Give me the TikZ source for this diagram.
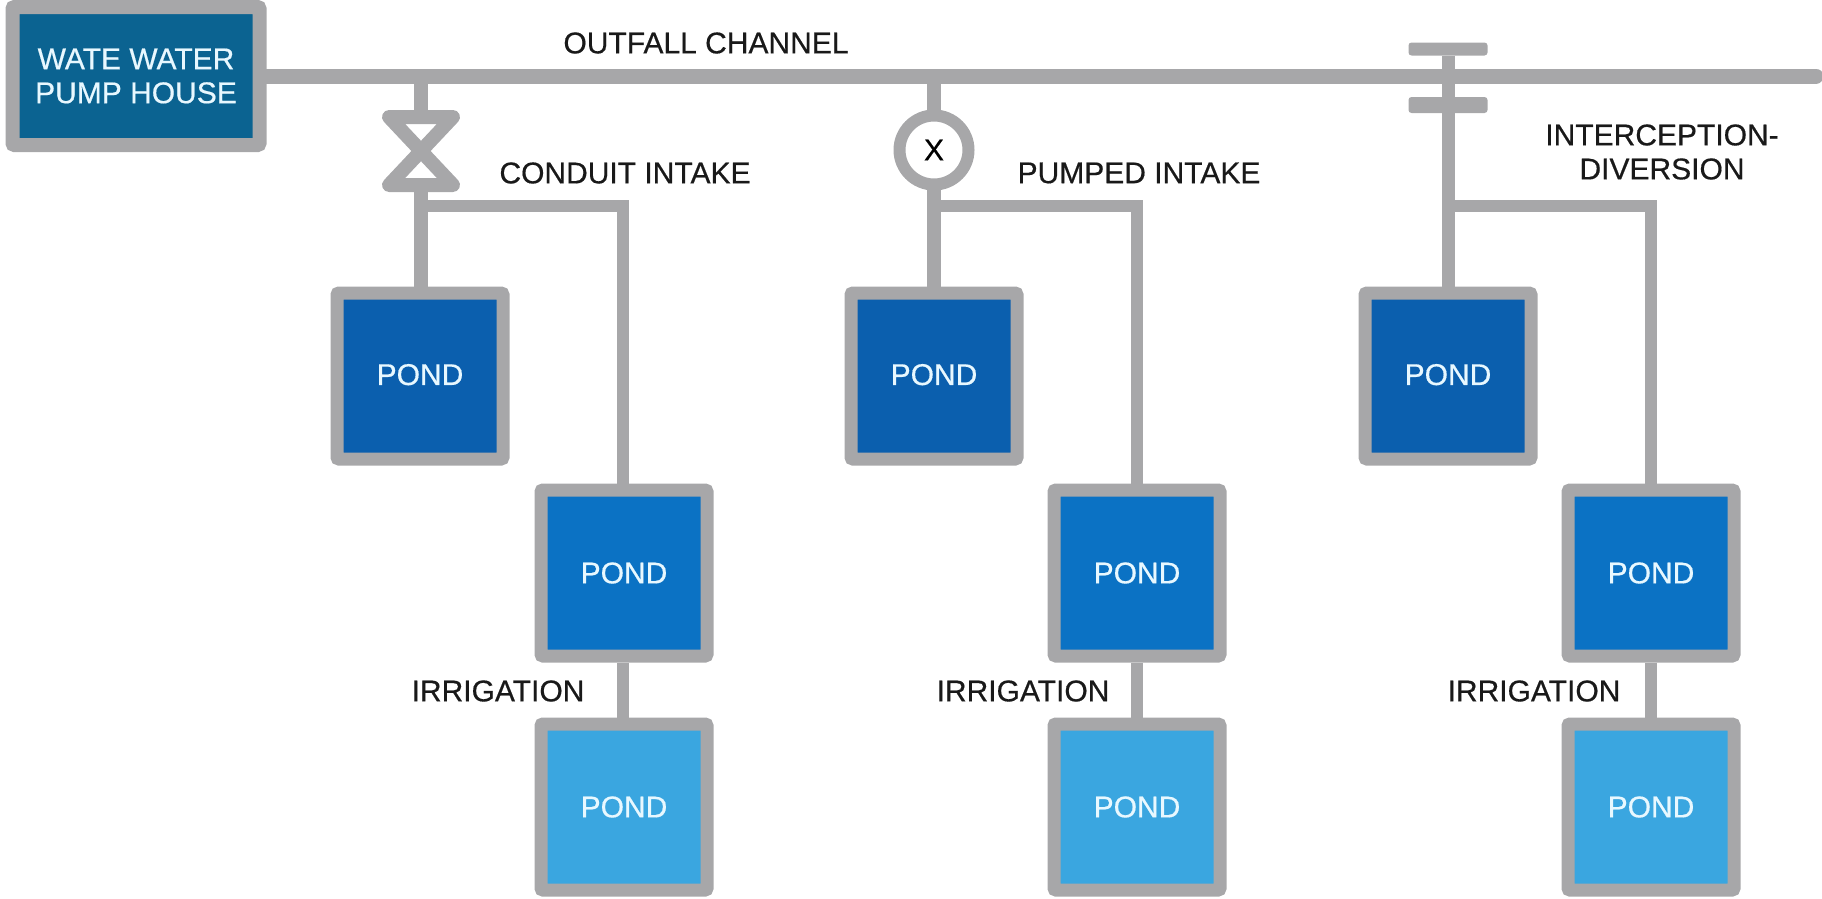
\documentclass[tikz,border=0pt]{standalone}
\usepackage{fontspec}
\setmainfont{Liberation Sans}
\newfontfamily\labfont[FakeBold=0.5]{Liberation Sans}
\definecolor{pipegrey}{HTML}{A7A7A9}
\definecolor{housec}{HTML}{0B6391}
\definecolor{ponda}{HTML}{0B5FAE}
\definecolor{pondb}{HTML}{0B72C4}
\definecolor{pondc}{HTML}{3AA6E0}
\definecolor{palet}{HTML}{E8F8FF}
\tikzset{
  x=1pt,y=-1pt,
  lab/.style={font=\labfont\fontsize{30}{34}\selectfont,text=black!90,inner sep=0pt,align=center},
  tank/.style={draw=pipegrey,line width=13pt,rounded corners=2pt,text=palet,
    font=\labfont\fontsize{30}{34}\selectfont,align=center,inner sep=0pt,
    minimum width=166pt,minimum height=166pt},
  pipe/.style={draw=pipegrey,line width=13pt},
  thin pipe/.style={draw=pipegrey,line width=12.5pt},
  bar/.style={fill=pipegrey,rounded corners=3pt,inner sep=0pt,minimum width=79pt},
}
\begin{document}
\begin{tikzpicture}
\useasboundingbox (0,0) rectangle (1822,898);
% pump house
\node[tank,fill=housec,minimum width=247pt,minimum height=138pt,line width=14pt] (house) at (136,76) {WATE WATER\\PUMP HOUSE};
\coordinate (chanend) at (1816,76);
\coordinate (j1) at (421,76);
\coordinate (j2) at (934,76);
\coordinate (j3) at (1448,76);
\draw[pipegrey,line width=15pt,line cap=round] (house.east) -- (chanend);
% ponds
\foreach \n/\xa/\xb/\xp in {1/420/624/623, 2/934/1137/1137, 3/1448/1651/1651}{
  \node[tank,fill=ponda] (a\n) at (\xa,376) {\raisebox{3pt}{POND}};
  \node[tank,fill=pondb] (b\n) at (\xb,573) {\raisebox{-1pt}{POND}};
  \node[tank,fill=pondc] (c\n) at (\xb,807) {POND};
  \coordinate (t\n) at (\xa,206);
  \coordinate (u\n) at (\xp,206);
  \draw[thin pipe] (b\n.south -| u\n) -- (c\n.north -| u\n);
  \draw[thin pipe] (b\n.north -| u\n) -- (u\n) -- ([xshift=-1pt]t\n);
}
% conduit intake valve
\coordinate (v1top) at (421,116);
\coordinate (v1bot) at (421,186);
\draw[pipe,line width=14.5pt] (j1) -- (v1top);
\draw[pipe,line width=14.5pt] (v1bot) -- (v1bot |- a1.north);
\draw[pipegrey,line width=14pt,line join=round] (389,117) -- (453,117) -- (389,185) -- (453,185) -- cycle;
% pumped intake
\node[circle,draw=pipegrey,line width=12pt,fill=white,minimum size=69pt,inner sep=0pt,font=\labfont\fontsize{30}{34}\selectfont] (pump) at (934,150) {X};
\draw[pipe,line width=14.5pt] (j2) -- ([yshift=-5pt]pump.north);
\draw[pipe,line width=14.5pt] ([yshift=5pt]pump.south) -- (a2.north);
% interception
\node[bar,minimum height=13pt] (g1) at (1448,49) {};
\node[bar,minimum height=16pt] (g2) at (1448,105) {};
\draw[pipe,line width=13pt] (g1) -- (g2);
\draw[pipe,line width=13pt] (g2) -- (a3.north);
% labels
\node[lab] (l0) at (706,43) {OUTFALL CHANNEL};
\node[lab] (l1) at (625,173) {CONDUIT INTAKE};
\node[lab] (l2) at (1139,173) {PUMPED INTAKE};
\node[lab] (l3) at (1662,152) {INTERCEPTION-\\DIVERSION};
\node[lab] (i1) at (498,691) {IRRIGATION};
\node[lab] (i2) at (1023,691) {IRRIGATION};
\node[lab] (i3) at (1534,691) {IRRIGATION};
\end{tikzpicture}
\end{document}
